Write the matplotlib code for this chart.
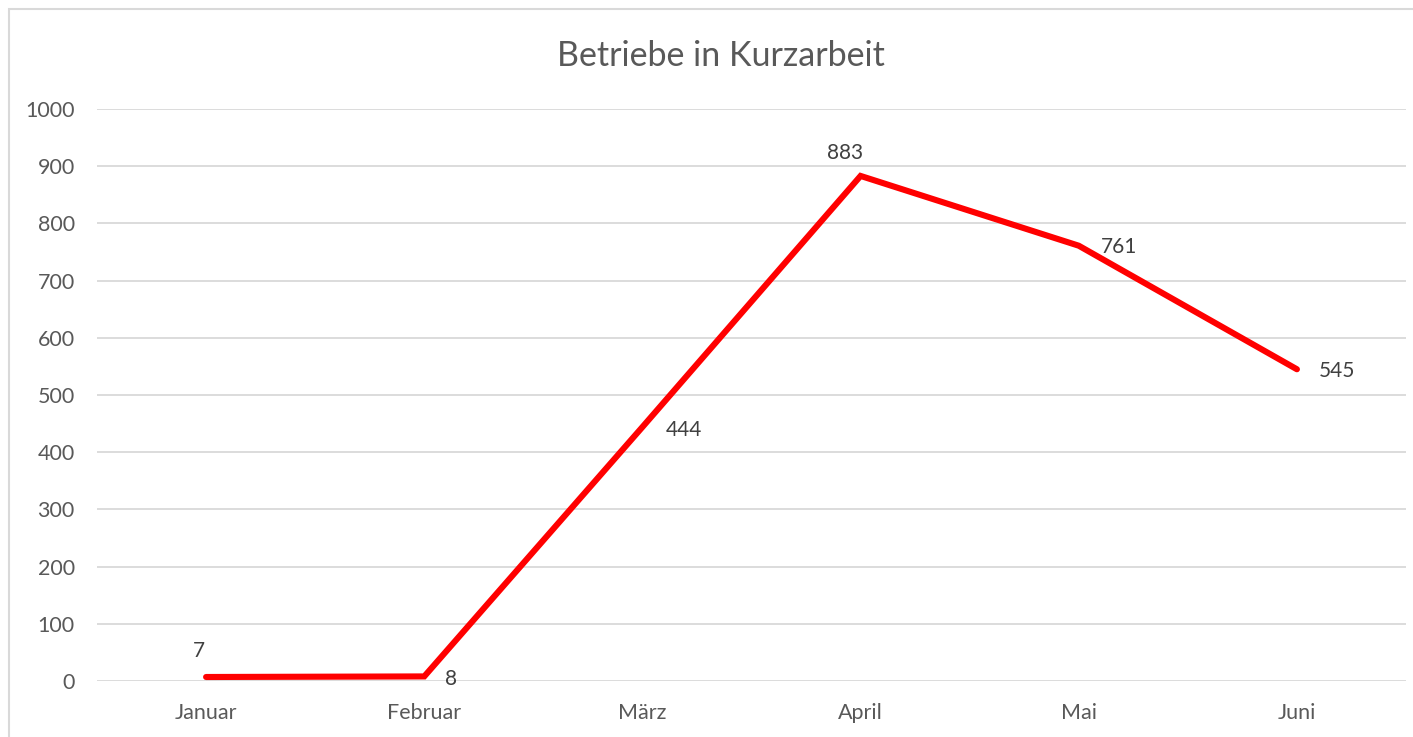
import matplotlib
matplotlib.use("Agg")
import matplotlib.pyplot as plt
from matplotlib.patches import Rectangle

# Daten
monate = ["Januar", "Februar", "März", "April", "Mai", "Juni"]
betriebe = [7, 8, 444, 883, 761, 545]
y_ticks = list(range(0, 1001, 100))

# Position der Datenbeschriftungen (Pixel-Offset, Ausrichtung)
label_offsets = [(-7, 26, "center"), (27, -3, "center"), (23, -3, "left"),
                 (-16, 23, "center"), (22, -1, "left"), (22, -2, "left")]

plt.rcParams['font.family'] = ['Lato', 'DejaVu Sans']

fig = plt.figure(figsize=(14.13, 7.37), dpi=100)
W, H = 1413, 737

# Rahmen des Diagrammbereichs
fig.patches.append(Rectangle((9 / W, -0.1), 1.2, 1 - 9 / H + 0.1, transform=fig.transFigure,
                             fill=False, edgecolor="#d9d9d9", linewidth=1.5))

ax = fig.add_axes([97 / W, 1 - 681 / H, (1406 - 97) / W, (681 - 109) / H])
x = list(range(len(monate)))
ax.plot(x, betriebe, color="#ff0000", linewidth=4.4, solid_capstyle="round",
        solid_joinstyle="miter", zorder=3)

for xi, v, (dx, dy, ha) in zip(x, betriebe, label_offsets):
    ax.annotate(str(v), (xi, v), xytext=(dx, dy), textcoords="offset pixels",
                ha=ha, va="center", fontsize=15, color="#404040")

ax.set_xlim(-0.5, len(monate) - 0.5)
ax.set_ylim(0, 1000)
ax.set_yticks(y_ticks)
ax.set_xticks(x)
ax.set_xticklabels(monate)
ax.grid(axis="y", color="#d9d9d9", linewidth=1.3)
ax.set_axisbelow(True)
for s in ax.spines.values():
    s.set_visible(False)
ax.tick_params(axis="y", length=0, pad=16, labelsize=15.5, labelcolor="#595959")
ax.tick_params(axis="x", length=0, pad=16, labelsize=15.5, labelcolor="#595959")

fig.text(721 / W, 1 - 56 / H, "Betriebe in Kurzarbeit", ha="center", va="center",
         fontsize=24.5, color="#595959")

fig.savefig("out.png", dpi=100)
